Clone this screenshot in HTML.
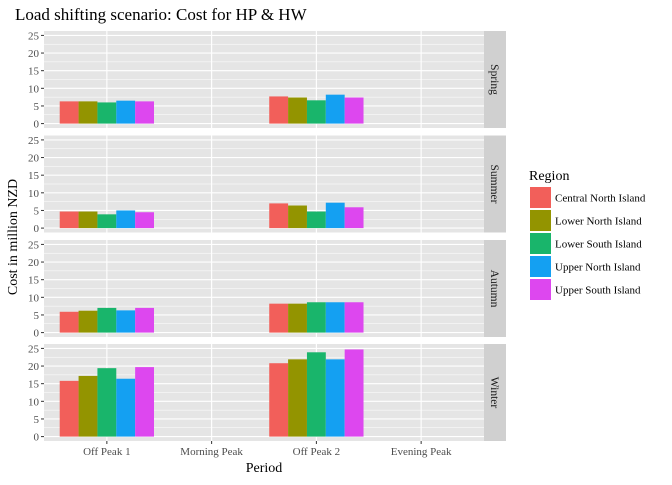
<!DOCTYPE html>
<html><head><meta charset="utf-8"><style>
body{margin:0;background:#fff;}
svg text{font-family:"Liberation Serif",serif;}
</style></head><body>
<svg id="c" width="672" height="480" xmlns="http://www.w3.org/2000/svg"></svg>
<script>
const periods=["Off Peak 1","Morning Peak","Off Peak 2","Evening Peak"];
const seasons=["Spring","Summer","Autumn","Winter"];
const regions=["Central North Island","Lower North Island","Lower South Island","Upper North Island","Upper South Island"];
const colors=["#F25F5A","#939400","#19B56B","#14A0F2","#DD47EF"];
const springOP1=[6.3,6.3,6.0,6.5,6.3];
const springOP2=[7.7,7.4,6.6,8.2,7.4];
const summerOP1=[4.7,4.7,3.9,5.0,4.5];
const summerOP2=[7.0,6.4,4.7,7.2,5.9];
const autumnOP1=[5.9,6.2,7.0,6.3,7.0];
const autumnOP2=[8.2,8.2,8.6,8.6,8.6];
const winterOP1=[15.8,17.2,19.4,16.4,19.7];
const winterOP2=[20.8,21.9,23.9,21.9,24.7];
const yTicks=[0,5,10,15,20,25];
const seasonData=[[springOP1,springOP2],[summerOP1,summerOP2],[autumnOP1,autumnOP2],[winterOP1,winterOP2]];
const barPeriods=[0,2];

const NS="http://www.w3.org/2000/svg";
const svg=document.getElementById('c');
function mk(t,a,p){const e=document.createElementNS(NS,t);for(const k in a)e.setAttribute(k,a[k]);(p||svg).appendChild(e);return e;}
const X0=44,X1=484,PH=97,tops=[31,135.5,240,344];
const xs=i=>X0+(i+1-0.4)*(X1-X0)/4.2;
const ys=(v,top)=>top+PH-(v+1.25)*PH/27.5;

let t=mk('text',{x:15,y:20,'font-size':17,fill:'#000'});

t.textContent='Load shifting scenario: Cost for HP & HW';

seasons.forEach((s,si)=>{
  const top=tops[si];
  const g=mk('g',{});
  
  mk('rect',{x:X0,y:top,width:X1-X0,height:PH,fill:'#E5E5E5'},g);
  for(let v=2.5;v<=25;v+=5) mk('line',{x1:X0,x2:X1,y1:ys(v,top),y2:ys(v,top),stroke:'#fff','stroke-width':0.5},g);
  yTicks.forEach(v=>{mk('line',{x1:X0,x2:X1,y1:ys(v,top),y2:ys(v,top),stroke:'#fff','stroke-width':1.1},g);
    mk('line',{x1:X0-3,x2:X0,y1:ys(v,top),y2:ys(v,top),stroke:'#333'},g);
    const tt=mk('text',{x:X0-5,y:ys(v,top)+4,'font-size':11,fill:'#4D4D4D','text-anchor':'end'},g);
    tt.textContent=v;});
  periods.forEach((p,pi)=>mk('line',{x1:xs(pi),x2:xs(pi),y1:top,y2:top+PH,stroke:'#fff','stroke-width':1.1},g));
  const bw=0.9*(X1-X0)/4.2/5;
  seasonData[si].forEach((vals,k)=>{
    const c=xs(barPeriods[k]);
    vals.forEach((v,ri)=>{
      const r=mk('rect',{x:c-2.5*bw+ri*bw,y:ys(v,top),width:bw,height:ys(0,top)-ys(v,top),fill:colors[ri]},g);
      
    });
  });
  const st=mk('rect',{x:X1,y:top,width:22,height:PH,fill:'#D0D0D0'},g);
  
  const sl=mk('text',{x:0,y:0,'font-size':11.5,fill:'#1A1A1A','text-anchor':'middle',transform:`translate(${X1+7},${top+PH/2}) rotate(90)`},g);
  sl.textContent=s;
});
periods.forEach((p,pi)=>{
  mk('line',{x1:xs(pi),x2:xs(pi),y1:441,y2:444,stroke:'#333'});
  const tt=mk('text',{x:xs(pi),y:455,'font-size':11,fill:'#4D4D4D','text-anchor':'middle'});
  tt.textContent=p;
});
t=mk('text',{x:264,y:472,'font-size':14,'text-anchor':'middle',fill:'#000'});
t.textContent='Period';
t=mk('text',{x:0,y:0,'font-size':14,'text-anchor':'middle',fill:'#000',transform:'translate(17,237) rotate(-90)'});
t.textContent='Cost in million NZD';
t=mk('text',{x:529,y:180,'font-size':14,fill:'#000'});
t.textContent='Region';
regions.forEach((r,i)=>{
  const g=mk('g',{});
  
  mk('rect',{x:530,y:187+i*23,width:21,height:21,fill:colors[i]},g);
  const tt=mk('text',{x:555,y:201.5+i*23,'font-size':11,fill:'#000'},g);tt.textContent=r;
});
</script>
</body></html>
